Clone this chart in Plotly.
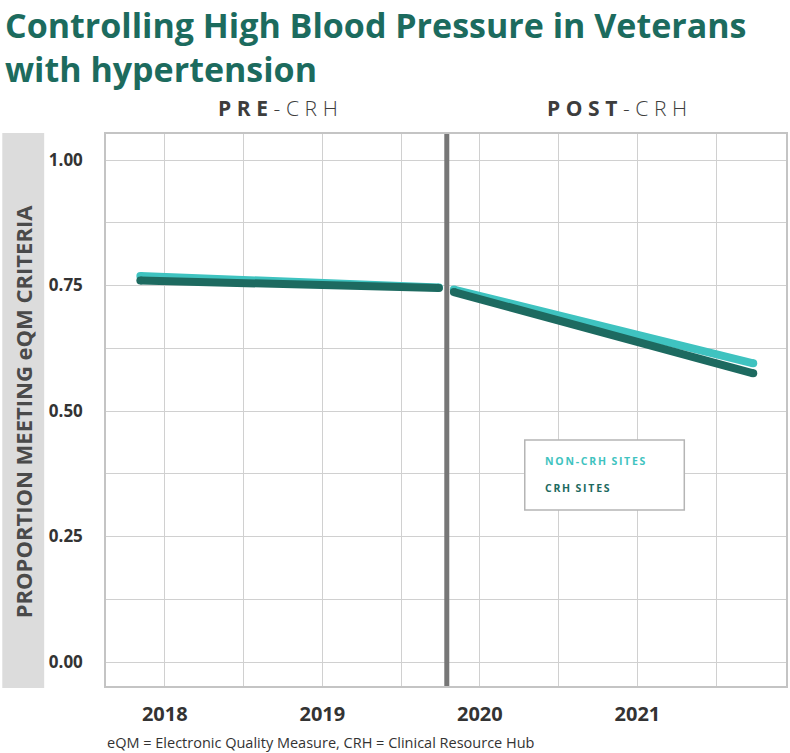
import plotly.graph_objects as go

# ---- data ----
pre_x = [2017.845, 2019.74]
post_x = [2019.835, 2021.735]
non_crh_pre = [0.769, 0.746]
crh_pre = [0.760, 0.745]
non_crh_post = [0.742, 0.595]
crh_post = [0.737, 0.575]
intervention_x = 2019.79

x_tickvals = [2018, 2018.5, 2019, 2019.5, 2020, 2020.5, 2021, 2021.5]
x_ticktext = ["2018", "", "2019", "", "2020", "", "2021", ""]
y_tickvals = [0, 0.125, 0.25, 0.375, 0.5, 0.625, 0.75, 0.875, 1.0]
y_ticktext = ["0.00", "", "0.25", "", "0.50", "", "0.75", "", "1.00"]

LIGHT = "#3fc3c0"
DARK = "#1d6a60"
TITLE_C = "#1c6b5e"
FONT = "Open Sans"

W, H = 790, 753
L, R, T, B = 106, 2, 134, 67


def px(x):
    return (x - L) / (W - L - R)


def py(y):
    return (H - B - y) / (H - T - B)


fig = go.Figure()
for xs, ys, c in [(pre_x, non_crh_pre, LIGHT), (post_x, non_crh_post, LIGHT),
                  (pre_x, crh_pre, DARK), (post_x, crh_post, DARK)]:
    fig.add_trace(go.Scatter(x=xs, y=ys, mode="lines+markers",
                             line=dict(color=c, width=8),
                             marker=dict(color=c, size=8, line=dict(width=0)),
                             showlegend=False, hoverinfo="skip"))

fig.add_shape(type="line", x0=intervention_x, x1=intervention_x, y0=0, y1=1,
              xref="x", yref="paper", line=dict(color="#777777", width=5))

# y-axis title background
fig.add_shape(type="rect", xref="paper", yref="paper",
              x0=px(2), x1=px(44), y0=py(688), y1=py(133),
              fillcolor="#dcdcdc", line=dict(width=0), layer="below")

# legend box
fig.add_shape(type="rect", xref="paper", yref="paper",
              x0=px(526), x1=px(686), y0=py(510), y1=py(440),
              fillcolor="white", line=dict(color="#b5b5b5", width=1.5))


def spaced(s, sp):
    return sp.join(list(s)).replace(sp + " " + sp, "  ")


SP_BIG = "\u2009\u200a"
SP_SMALL = "\u2009"

ann = [
    dict(text="<b>Controlling High Blood Pressure in Veterans<br>with hypertension</b>",
         x=px(3), y=py(0), xanchor="left", yanchor="top", align="left",
         font=dict(size=34, color=TITLE_C, family=FONT)),
    dict(text="<b>" + spaced("PRE", SP_BIG) + "</b>" + SP_BIG + "<span style='font-weight:300'>"
         + spaced("-CRH", SP_BIG) + "</span>",
         x=px(279), y=py(108), xanchor="center", yanchor="middle",
         font=dict(size=21, color="#3d3d3d", family=FONT)),
    dict(text="<b>" + spaced("POST", SP_BIG) + "</b>" + SP_BIG + "<span style='font-weight:300'>"
         + spaced("-CRH", SP_BIG) + "</span>",
         x=px(619), y=py(108), xanchor="center", yanchor="middle",
         font=dict(size=21, color="#3d3d3d", family=FONT)),
    dict(text="<b>PROPORTION MEETING eQM CRITERIA</b>", x=px(23), y=py(412),
         textangle=-90, xanchor="center", yanchor="middle",
         font=dict(size=22, color="#4a4a4a", family=FONT)),
    dict(text="<b>" + spaced("NON-CRH SITES", SP_SMALL) + "</b>", x=px(544), y=py(461),
         xanchor="left", yanchor="middle", font=dict(size=10.5, color=LIGHT, family=FONT)),
    dict(text="<b>" + spaced("CRH SITES", SP_SMALL) + "</b>", x=px(544), y=py(488),
         xanchor="left", yanchor="middle", font=dict(size=10.5, color=DARK, family=FONT)),
    dict(text="eQM = Electronic Quality Measure, CRH = Clinical Resource Hub", x=px(105), y=py(742),
         xanchor="left", yanchor="middle", font=dict(size=14.5, color="#333333", family=FONT)),
]
for a in ann:
    a.update(xref="paper", yref="paper", showarrow=False)
fig.update_layout(annotations=ann)

fig.update_layout(
    width=W, height=H,
    margin=dict(l=L, r=R, t=T, b=B, pad=0),
    paper_bgcolor="white", plot_bgcolor="white",
    font=dict(family=FONT),
    xaxis=dict(range=[2017.627, 2021.943], tickvals=x_tickvals, ticktext=x_ticktext,
               showgrid=True, gridcolor="#d0d0d0", gridwidth=1, zeroline=False,
               showline=True, linecolor="#c4c4c4", linewidth=1.5, mirror=True,
               ticks="", ticklabelstandoff=9,
               tickfont=dict(size=20, color="#333333", family=FONT, weight="bold")),
    yaxis=dict(range=[-0.0478, 1.0518], tickvals=y_tickvals, ticktext=y_ticktext,
               showgrid=True, gridcolor="#d0d0d0", gridwidth=1, zeroline=False,
               showline=True, linecolor="#c4c4c4", linewidth=1.5, mirror=True,
               ticks="", ticklabelstandoff=18,
               tickfont=dict(size=17, color="#333333", family=FONT, weight="bold")),
)

fig.write_html("out.html")
